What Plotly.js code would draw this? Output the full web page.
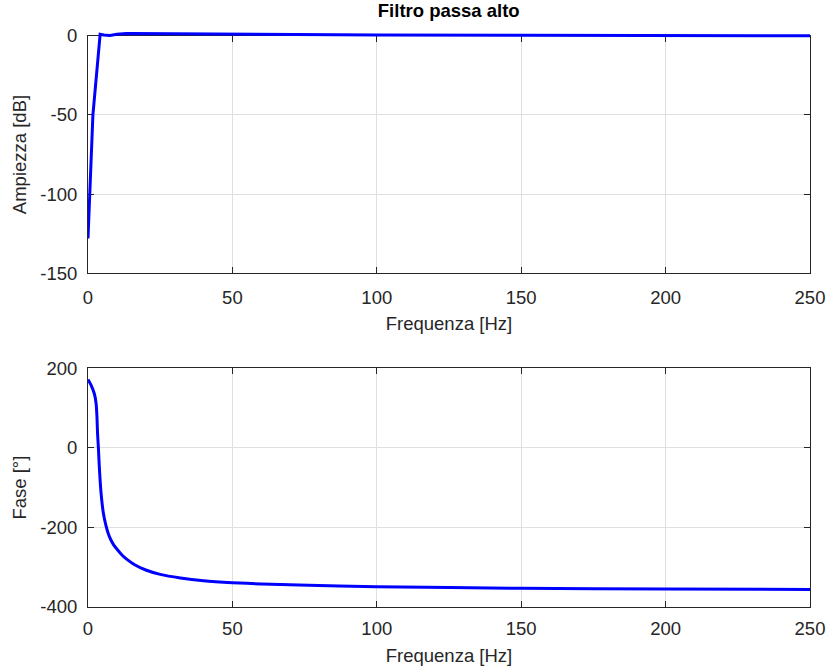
<!DOCTYPE html>
<html>
<head>
<meta charset="utf-8">
<script src="https://cdn.plot.ly/plotly-3.0.1.min.js"></script>
<style>html,body{margin:0;padding:0;background:#fff;}#chart{width:831px;height:668px;}</style>
</head>
<body>
<div id="chart"></div>
<script>
// Magnitude response
const freqMag = [0, 1.7, 4.2, 5.5, 7.6, 10, 13.4, 20, 30, 50, 73, 100, 150, 200, 250];
const magDb   = [-128, -50, 0.9, 0.4, 0.1, 0.9, 1.4, 1.3, 1.1, 0.8, 0.6, 0.4, 0.2, 0.1, 0.0];
// Phase response
const freqPhase = [0, 1.1, 2.2, 2.8, 3.1, 3.3, 3.6, 3.9, 4.5, 5.3, 6.2, 7.0, 7.9, 9, 10.2, 12, 13.6, 16, 20, 25, 32, 40, 50, 60, 73, 100, 150, 200, 250];
const phaseDeg  = [172, 157, 136, 112, 79, 37, 0, -45, -112, -163, -195, -215, -231, -245, -256, -271, -281, -293, -307, -318, -327, -334, -339, -342, -345, -349, -353, -355, -356];

const xTicks = [0, 50, 100, 150, 200, 250];
const xTickText = ['0', '50', '100', '150', '200', '250'];
const magTicks = [-150, -100, -50, 0];
const magTickText = ['-150', '-100', '-50', '0'];
const phaseTicks = [-400, -200, 0, 200];
const phaseTickText = ['-400', '-200', '0', '200'];

const title = 'Filtro passa alto';
const xTitle = 'Frequenza [Hz]';
const yTitleMag = 'Ampiezza [dB]';
const yTitlePhase = 'Fase [°]';

const axisCol = '#262626';
const gridCol = '#dfdfdf';
const fnt = {family: 'Liberation Sans, Arial, sans-serif', size: 18.5, color: '#262626'};

function xaxisDef(anchor, standoff) {
  return {
    anchor: anchor, range: [0, 250], tickvals: xTicks, ticktext: xTickText,
    showline: true, linecolor: axisCol, linewidth: 1, mirror: 'ticks',
    ticks: 'inside', ticklen: 6, tickcolor: axisCol, ticklabelstandoff: standoff,
    showgrid: true, gridcolor: gridCol, zeroline: false,
    tickfont: fnt, title: {text: xTitle, font: fnt, standoff: 10}
  };
}
function yaxisDef(anchor, domain, range, tv, tt, t) {
  return {
    anchor: anchor, domain: domain, range: range, tickvals: tv, ticktext: tt,
    showline: true, linecolor: axisCol, linewidth: 1, mirror: 'ticks',
    ticks: 'inside', ticklen: 6, tickcolor: axisCol, ticklabelstandoff: 6,
    showgrid: true, gridcolor: gridCol, zeroline: false,
    tickfont: fnt, title: {text: t, font: fnt, standoff: 8}
  };
}

const data = [
  // empty trace so the framed magnitude axes are created
  {x: [], y: [], type: 'scatter', mode: 'lines', xaxis: 'x', yaxis: 'y', hoverinfo: 'skip'},
  {x: freqMag, y: magDb, type: 'scatter', mode: 'lines', line: {color: '#0000ff', width: 3}, xaxis: 'x3', yaxis: 'y3'},
  {x: freqPhase, y: phaseDeg, type: 'scatter', mode: 'lines', line: {color: '#0000ff', width: 3, shape: 'spline', smoothing: 0.5}, xaxis: 'x2', yaxis: 'y2'}
];

const layout = {
  width: 831, height: 668,
  margin: {l: 88, r: 21, t: 32, b: 61},
  paper_bgcolor: '#ffffff', plot_bgcolor: 'rgba(0,0,0,0)',
  showlegend: false,
  font: fnt,
  title: {text: '<b>' + title + '</b>', font: {family: fnt.family, size: 18.5, color: '#000'}, x: 0.54, xanchor: 'center', yref: 'container', y: 0.985, yanchor: 'middle'},
  xaxis: xaxisDef('y', 7),
  yaxis: yaxisDef('x', [0.5803, 0.9936], [-150, 0], magTicks, magTickText, yTitleMag),
  xaxis2: xaxisDef('y2', 5),
  yaxis2: yaxisDef('x2', [0, 0.4151], [-400, 200], phaseTicks, phaseTickText, yTitlePhase),
  // hidden axes for the magnitude trace so the line is not clipped at the 0 dB frame
  xaxis3: {anchor: 'y3', range: [0, 250], visible: false, domain: [0, 1]},
  yaxis3: {anchor: 'x3', domain: [0.5803, 1], range: [-150, 2.33], visible: false}
};

Plotly.newPlot('chart', data, layout, {displayModeBar: false, staticPlot: true});
</script>
</body>
</html>
